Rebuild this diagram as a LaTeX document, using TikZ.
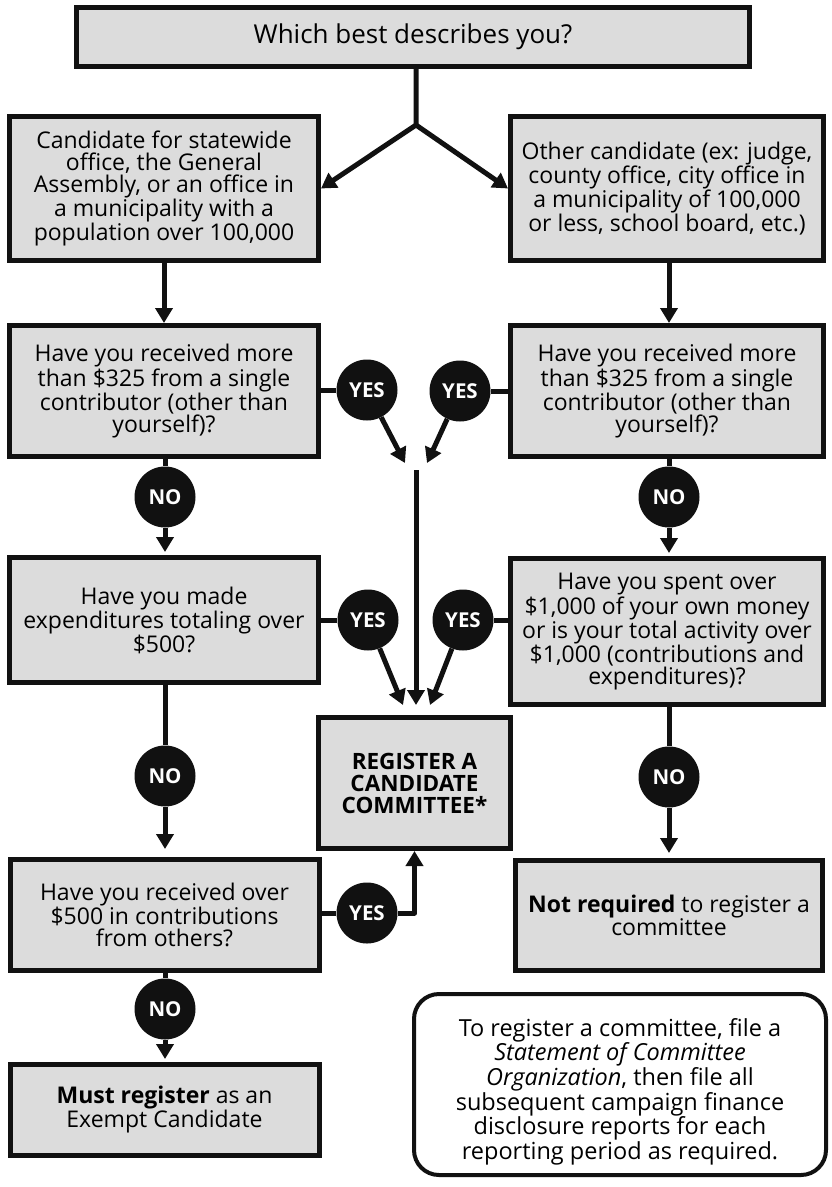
\documentclass[tikz,border=0pt]{standalone}
\usepackage{fontspec}
\setmainfont{Open Sans}
\usetikzlibrary{arrows.meta,calc}
\definecolor{boxfill}{RGB}{220,220,220}
\definecolor{ink}{RGB}{17,17,17}
\begin{document}
\begin{tikzpicture}[x=1pt,y=-1pt,
  qbox/.style={draw=ink, fill=boxfill, line width=5pt, rectangle, align=center, inner sep=0pt, font=\fontsize{23}{22}\selectfont},
  dot/.style={circle, fill=ink, text=white, minimum size=61pt, inner sep=0pt, font=\bfseries\fontsize{20.5}{20}\selectfont},
  conn/.style={draw=ink, line width=5pt, line join=round},
  arr/.style={conn, -{Triangle[width=17pt,length=15pt]}},
]
\useasboundingbox (0,0) rectangle (832,1187);

% boxes
\node[qbox, minimum width=673pt, minimum height=59pt, font=\fontsize{26}{26}\selectfont] (top) at (413,37) {Which best describes you?};
\node[qbox, minimum width=309pt, minimum height=144pt] (L1) at (164,188.5) {Candidate for statewide\\office, the General\\Assembly, or an office in\\a municipality with a\\population over 100,000};
\node[qbox, minimum width=313pt, minimum height=144pt] (R1) at (667,188.5) {Other candidate (ex: judge,\\county office, city office in\\a municipality of 100,000\\or less, school board, etc.)};
\node[qbox, minimum width=309pt, minimum height=131pt] (L2) at (164,391) {Have you received more\\than \$325 from a single\\contributor (other than\\yourself)?};
\node[qbox, minimum width=313pt, minimum height=131pt] (R2) at (667,391) {Have you received more\\than \$325 from a single\\contributor (other than\\yourself)?};
\node[qbox, minimum width=309pt, minimum height=125pt] (L3) at (164,620) {Have you made\\expenditures totaling over\\\$500?};
\node[qbox, minimum width=313pt, minimum height=146pt] (R3) at (667,631.5) {Have you spent over\\\$1,000 of your own money\\or is your total activity over\\\$1,000 (contributions and\\expenditures)?};
\node[qbox, minimum width=192pt, minimum height=131pt, font=\bfseries\fontsize{22.5}{22}\selectfont] (REG) at (414.5,783) {REGISTER A\\CANDIDATE\\COMMITTEE*};
\node[qbox, minimum width=309pt, minimum height=111pt] (L4) at (164.5,915) {Have you received over\\\$500 in contributions\\from others?};
\node[qbox, minimum width=307pt, minimum height=110pt] (R4) at (669,915.5) {\textbf{Not required} to register a\\committee};
\node[qbox, minimum width=309pt, minimum height=91pt] (L5) at (164.5,1110) {\textbf{Must register} as an\\Exempt Candidate};
\node[qbox, fill=white, line width=4pt, rounded corners=25pt, minimum width=412pt, minimum height=181pt, font=\fontsize{23.5}{20}\selectfont] (note) at (620,1084.5) {\rule{0pt}{32pt}To register a committee, file a\\\textit{Statement of Committee}\\\textit{Organization}, then file all\\subsequent campaign finance\\disclosure reports for each\\reporting period as required.};

% decision dots
\node[dot] (YL2) at (367,390) {YES};
\node[dot] (YR2) at (460,391) {YES};
\node[dot] (NL2) at (165,497) {NO};
\node[dot] (NR2) at (669,497) {NO};
\node[dot] (YL3) at (368,620) {YES};
\node[dot] (YR3) at (463,620) {YES};
\node[dot] (NL3) at (165,776) {NO};
\node[dot] (NR3) at (669,777) {NO};
\node[dot] (YL4) at (367,913) {YES};
\node[dot] (NL4) at (165,1009) {NO};

% free ends
\coordinate (split) at (416,125);
\coordinate (tL2) at (405,463);
\coordinate (tR2) at (427,463);
\coordinate (vtop) at (416,470);
\coordinate (tL3) at (403,705);
\coordinate (tR3) at (430,705);

% connectors
\draw[arr] (top.south -| split) -- (split) -- (L1.east);
\draw[arr] (split) -- (R1.west);
\draw[arr] (L1.south) -- (L2.north);
\draw[arr] (R1.south -| NR2) -- (R2.north -| NR2);

\draw[conn] (L2.east |- YL2) -- (YL2);
\draw[conn] (R2.west |- YR2) -- (YR2);
\draw[arr] (YL2) -- (tL2);
\draw[arr] (YR2) -- (tR2);
\draw[arr, shorten >=10pt] (vtop) -- (REG.north -| vtop);

\draw[conn] (L2.south -| NL2) -- (NL2);
\draw[arr, shorten >=3pt] (NL2) -- (L3.north -| NL2);
\draw[conn] (R2.south -| NR2) -- (NR2);
\draw[arr, shorten >=3pt] (NR2) -- (R3.north -| NR2);

\draw[conn] (L3.east |- YL3) -- (YL3);
\draw[conn] (R3.west |- YR3) -- (YR3);
\draw[arr] (YL3) -- (tL3);
\draw[arr] (YR3) -- (tR3);

\draw[conn] (L3.south -| NL3) -- (NL3);
\draw[arr, shorten >=8pt] (NL3) -- (L4.north -| NL3);
\draw[conn] (R3.south -| NR3) -- (NR3);
\draw[arr, shorten >=5pt] (NR3) -- (R4.north -| NR3);

\draw[conn] (L4.east |- YL4) -- (YL4);
\draw[arr] (YL4) -| (REG.south);

\draw[conn] (L4.south -| NL4) -- (NL4);
\draw[arr, shorten >=3pt] (NL4) -- (L5.north -| NL4);
\end{tikzpicture}
\end{document}
